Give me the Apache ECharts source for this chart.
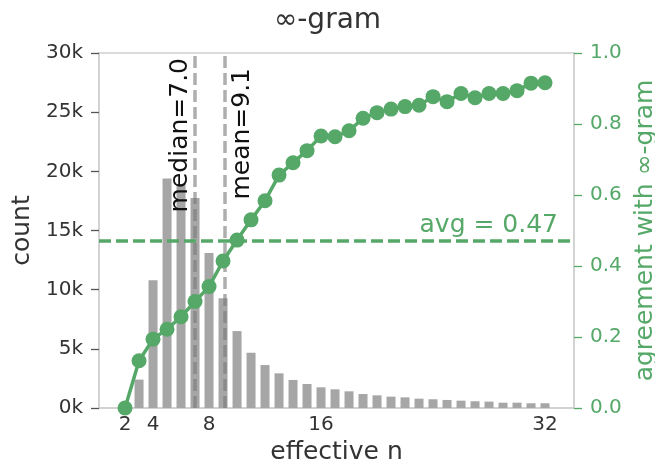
<!DOCTYPE html>
<html>
<head>
<meta charset="utf-8">
<script src="https://cdn.jsdelivr.net/npm/echarts@6/dist/echarts.min.js"></script>
<style>
  html, body { margin: 0; padding: 0; background: #fff; }
  #chart { width: 655px; height: 467px; }
</style>
</head>
<body>
<div id="chart"></div>
<script>
// histogram of effective n
const barN = [3, 4, 5, 6, 7, 8, 9, 10, 11, 12, 13, 14, 15, 16, 17, 18, 19, 20,
  21, 22, 23, 24, 25, 26, 27, 28, 29, 30, 31, 32];
const barCounts = [2400, 10800, 19400, 18900, 17750, 13100, 9270, 6500, 4670, 3630,
  2930, 2370, 2030, 1750, 1580, 1410, 1180, 1070, 960, 900,
  790, 740, 680, 620, 570, 540, 450, 450, 400, 400];

// agreement with ∞-gram per effective n
const lineN = [2, 3, 4, 5, 6, 7, 8, 9, 10, 11, 12, 13, 14, 15, 16, 17, 18, 19, 20,
  21, 22, 23, 24, 25, 26, 27, 28, 29, 30, 31, 32];
const agreement = [0, 0.133, 0.194, 0.222, 0.257, 0.30, 0.342, 0.414, 0.473, 0.53,
  0.584, 0.656, 0.691, 0.725, 0.766, 0.764, 0.781, 0.816, 0.832, 0.842,
  0.849, 0.853, 0.877, 0.863, 0.886, 0.874, 0.886, 0.886, 0.894, 0.915, 0.916];

const xTicks = [2, 4, 8, 16, 32];
const medianN = 7.0;
const meanN = 9.1;
const avgAgreement = 0.47;

const green = '#55a868';
const ink = '#333';
const spine = '#d0d0d0';
const font = 'DejaVu Sans';

let chart = echarts.init(document.getElementById('chart'));

chart.setOption({
  animation: false,
  textStyle: {fontFamily: font},
  title: {
    text: '∞-gram',
    left: 'center',
    top: 2,
    textStyle: {fontFamily: font, fontSize: 28, fontWeight: 'normal', color: ink}
  },
  grid: {
    left: 99, right: 81, top: 53, bottom: 59,
    outerBoundsMode: 'none',
    containLabel: false,
    show: true, borderColor: spine, borderWidth: 1.5
  },
  xAxis: {
    type: 'value',
    min: 0.14,
    max: 34.07,
    name: 'effective n',
    nameLocation: 'middle',
    nameGap: 31,
    nameTextStyle: {fontSize: 25, color: ink},
    axisLine: {show: true, lineStyle: {color: spine, width: 1.5}},
    axisTick: {show: false},
    splitLine: {show: false},
    axisLabel: {customValues: xTicks, fontSize: 20, color: ink, margin: 7}
  },
  yAxis: [
    {
      type: 'value',
      min: 0,
      max: 30000,
      interval: 5000,
      name: 'count',
      nameLocation: 'middle',
      nameGap: 58,
      nameTextStyle: {fontSize: 25, color: ink},
      axisLine: {show: true, lineStyle: {color: spine, width: 1.5}},
      axisTick: {show: true, length: 8, lineStyle: {color: '#555', width: 1.3}},
      splitLine: {show: false},
      axisLabel: {
        fontSize: 20, color: ink, margin: 16,
        formatter: (v) => (v / 1000) + 'k'
      }
    },
    {
      type: 'value',
      min: 0,
      max: 1,
      interval: 0.2,
      position: 'right',
      name: 'agreement with ∞-gram',
      nameLocation: 'middle',
      nameGap: 59,
      nameRotate: 90,
      nameTextStyle: {fontSize: 25, color: green},
      axisLine: {show: true, lineStyle: {color: spine, width: 1.5}},
      axisTick: {show: true, length: 8, lineStyle: {color: green, width: 1.3}},
      splitLine: {show: false},
      axisLabel: {
        fontSize: 20, color: green, margin: 16,
        formatter: (v) => v.toFixed(1)
      }
    }
  ],
  series: [
    {
      type: 'bar',
      yAxisIndex: 0,
      barWidth: 9,
      itemStyle: {color: '#a6a6a6'},
      data: barN.map((n, i) => [n, barCounts[i]]),
      markLine: {
        silent: true,
        symbol: ['none', 'none'],
        lineStyle: {color: 'rgba(120,120,120,0.6)', width: 3.5, type: [12, 5]},
        label: {fontSize: 25, color: '#111', fontFamily: font},
        data: [
          {
            xAxis: medianN,
            label: {position: 'insideEndTop', distance: [5, 2], formatter: 'median=' + medianN.toFixed(1)}
          },
          {
            xAxis: meanN,
            label: {position: 'insideEndBottom', distance: [15, 6], formatter: 'mean=' + meanN.toFixed(1)}
          }
        ]
      }
    },
    {
      type: 'line',
      yAxisIndex: 1,
      z: 5,
      symbol: 'circle',
      symbolSize: 15,
      lineStyle: {color: green, width: 3.5},
      itemStyle: {color: green},
      data: lineN.map((n, i) => [n, agreement[i]]),
      markLine: {
        silent: true,
        symbol: ['none', 'none'],
        lineStyle: {color: green, width: 3.5, type: [12, 5]},
        label: {
          position: 'insideEndTop',
          distance: [16, 3],
          fontSize: 25,
          color: green,
          fontFamily: font,
          formatter: 'avg = ' + avgAgreement.toFixed(2)
        },
        data: [{yAxis: avgAgreement}]
      }
    }
  ]
});
</script>
</body>
</html>
